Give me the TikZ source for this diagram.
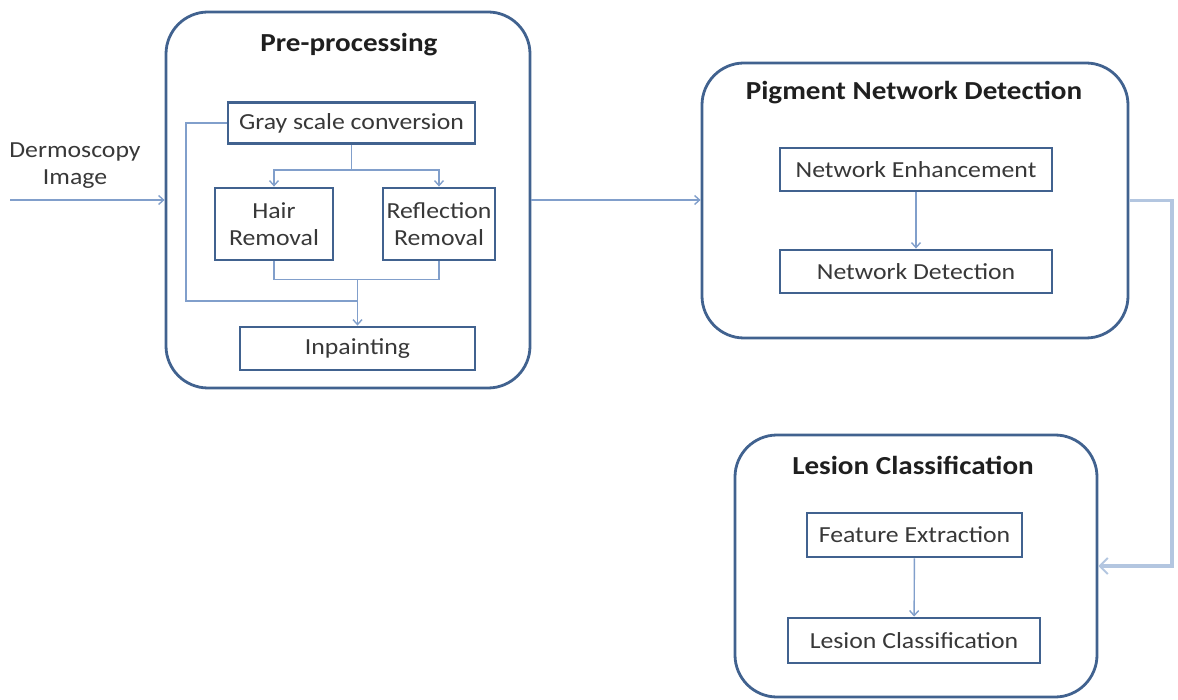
\documentclass[tikz,border=0pt]{standalone}
\usepackage{fontspec}
\setmainfont{Carlito}[FakeStretch=1.12]
\usetikzlibrary{arrows.meta,calc}
\definecolor{boxline}{HTML}{41628F}
\definecolor{link}{HTML}{819FCB}
\definecolor{linkwide}{HTML}{B3C6E0}
\definecolor{txt}{HTML}{383838}
\begin{document}
\begin{tikzpicture}[x=1pt,y=-1pt,
  stage/.style={draw=boxline, line width=2.8pt, rounded corners=42pt},
  stepbox/.style={draw=boxline, line width=2.8pt, text=txt,
    font=\fontsize{23}{27}\selectfont, align=center, inner sep=2pt},
  title/.style={font=\bfseries\fontsize{26}{30}\selectfont, text=black!88},
  plain/.style={draw=link, line width=1.4pt},
  flow/.style={plain, -{Straight Barb[length=5pt,width=9pt]}},
  widelink/.style={draw=linkwide, line width=3.5pt, -{Straight Barb[length=8pt,width=16pt,line width=2pt]}}]
\useasboundingbox (0,0) rectangle (1178,700);

% Pre-processing stage
\node[stage, minimum width=364pt, minimum height=376pt] (pre) at (348,200) {};
\node[title] (pret) at (349,45) {Pre-processing};
\node[stepbox, minimum width=247pt, minimum height=41pt] (gray) at (351.5,123) {Gray scale conversion};
\node[stepbox, minimum width=118pt, minimum height=72pt] (hair) at (274,224) {Hair\\Removal};
\node[stepbox, minimum width=112pt, minimum height=72pt] (refl) at (439,224) {Reflection\\Removal};
\node[stepbox, minimum width=235pt, minimum height=43pt] (inp) at (357.5,348.5) {Inpainting};

% Pigment network stage
\node[stage, minimum width=426pt, minimum height=275pt] (pig) at (915,200.5) {};
\node[title] (pigt) at (914,93) {Pigment Network Detection};
\node[stepbox, minimum width=272pt, minimum height=43pt] (enh) at (916,169.5) {Network Enhancement};
\node[stepbox, minimum width=272pt, minimum height=43pt] (det) at (916,271.5) {Network Detection};

% Classification stage
\node[stage, minimum width=362pt, minimum height=262pt] (les) at (916,566) {};
\node[title] (lest) at (913,465) {Lesion Classification};
\node[stepbox, minimum width=215pt, minimum height=44pt] (feat) at (914.5,535) {Feature Extraction};
\node[stepbox, minimum width=252pt, minimum height=45pt] (cls) at (914,640.5) {Lesion Classification};

% input
\node[font=\fontsize{23}{27}\selectfont, text=txt, align=center] (inlbl) at (75,166) {Dermoscopy\\Image};
\coordinate (src) at (10,200);

% connectors between stages
\draw[flow] (src) -- (pre.west);
\draw[flow] (pre.east) -- (pre.east -| pig.west);
\coordinate (rt) at (1172,200);
\draw[widelink] (pig.east) -- (pig.east -| rt) |- (les.east);

% connectors inside pre-processing
\draw[flow] (gray.south) -- ++(0,25) -| (hair.north);
\draw[flow] (gray.south) -- ++(0,25) -| (refl.north);
\coordinate (mg) at ($(hair.south)+(0,18)$);
\draw[plain] (hair.south) -- (mg) -| (refl.south);
\coordinate (lp) at (186,301);
\draw[plain] (gray.west) -| (lp) -- (lp -| inp.north);
\draw[flow] (inp.north |- mg) -- (inp.north);

% connectors inside the other stages
\draw[flow] (enh) -- (det);
\draw[flow] (feat) -- (cls);
\end{tikzpicture}
\end{document}
